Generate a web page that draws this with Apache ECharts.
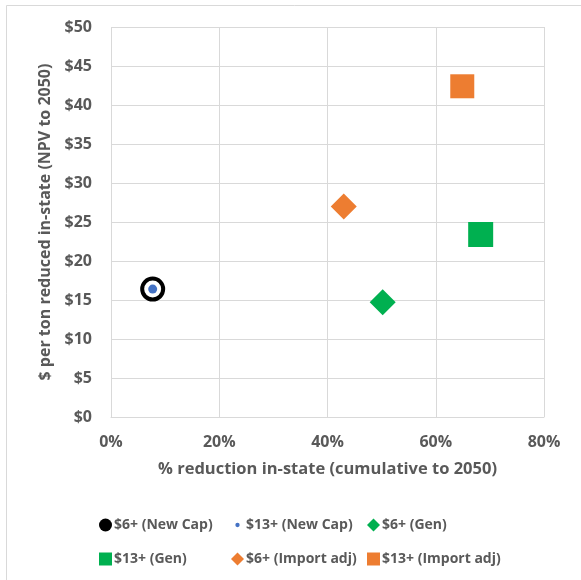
<!DOCTYPE html>
<html><head><meta charset="utf-8">
<script src="https://cdn.jsdelivr.net/npm/echarts@6/dist/echarts.min.js"></script>
<style>html,body{margin:0;padding:0;background:#fff}#c{width:581px;height:580px}</style>
</head><body><div id="c"></div>
<script>
const seriesNames = ['$6+ (New Cap)', '$13+ (New Cap)', '$6+ (Gen)', '$13+ (Gen)', '$6+ (Import adj)', '$13+ (Import adj)'];
const reductionPct = [7.7, 7.7, 50.2, 68.3, 43.0, 64.9];
const costPerTon = [16.4, 16.4, 14.7, 23.4, 27.0, 42.4];
const xTicks = [0, 20, 40, 60, 80];
const yTicks = [0, 5, 10, 15, 20, 25, 30, 35, 40, 45, 50];

const font = '"Open Sans", sans-serif';
const txt = '#595959';
const styles = [
  {symbol: 'circle', symbolSize: 21, itemStyle: {color: '#ffffff', borderColor: '#000000', borderWidth: 4, opacity: 1}, legendColor: '#000'},
  {symbol: 'circle', symbolSize: 9, itemStyle: {color: '#4472C4', opacity: 1}, legendColor: '#4472C4'},
  {symbol: 'diamond', symbolSize: 26, itemStyle: {color: '#00B050', opacity: 1}, legendColor: '#00B050'},
  {symbol: 'rect', symbolSize: 25, itemStyle: {color: '#00B050', borderRadius: 2, opacity: 1}, legendColor: '#00B050'},
  {symbol: 'diamond', symbolSize: 26, itemStyle: {color: '#ED7D31', opacity: 1}, legendColor: '#ED7D31'},
  {symbol: 'rect', symbolSize: 24, itemStyle: {color: '#ED7D31', borderRadius: 2, opacity: 1}, legendColor: '#ED7D31'}
];

const series = seriesNames.map((n, i) => ({
  name: n, type: 'scatter', symbol: styles[i].symbol, symbolSize: styles[i].symbolSize,
  itemStyle: styles[i].itemStyle, z: i === 1 ? 5 : 3,
  emphasis: {disabled: true},
  data: [[reductionPct[i], costPerTon[i]]]
}));

const smallDot = 'image://data:image/svg+xml;utf8,' + encodeURIComponent('<svg xmlns="http://www.w3.org/2000/svg" width="12" height="12"><circle cx="6" cy="6" r="2" fill="#4472C4"/></svg>');
const legendIcons = ['circle', smallDot, 'diamond', 'rect', 'diamond', 'rect'];
const legendLefts = [94, 226, 362];
const legends = [0, 1, 2].map(col => ({
  orient: 'vertical', left: legendLefts[col], top: 513, itemGap: 20,
  itemWidth: 13, itemHeight: 13,
  textStyle: {fontFamily: font, fontWeight: 'bold', fontSize: 14, color: txt, padding: [0, 0, 0, -3]},
  data: [col, col + 3].map(i => ({
    name: seriesNames[i], icon: legendIcons[i],
    itemStyle: {color: styles[i].legendColor, borderWidth: 0, opacity: 1}
  }))
}));

const chart = echarts.init(document.getElementById('c'), null, {renderer: 'canvas'});
chart.setOption({
  animation: false,
  backgroundColor: '#fff',
  graphic: [{type: 'rect', shape: {x: 6.5, y: 5.5, width: 700, height: 700}, style: {fill: 'none', stroke: '#d9d9d9', lineWidth: 1}, silent: true, z: -10}],
  grid: {left: 111, right: 37, top: 27, bottom: 163},
  xAxis: {
    type: 'value', min: xTicks[0], max: xTicks[xTicks.length - 1], interval: 20,
    name: '% reduction in-state (cumulative to 2050)', nameLocation: 'middle', nameGap: 44,
    nameTextStyle: {fontFamily: font, fontWeight: 'bold', fontSize: 16.5, color: txt},
    axisLine: {show: true, lineStyle: {color: '#d9d9d9'}}, axisTick: {show: false},
    axisLabel: {fontFamily: font, fontWeight: 'bold', fontSize: 16, color: txt, margin: 17, formatter: v => v + '%'},
    splitLine: {show: true, lineStyle: {color: '#d9d9d9', width: 1}}
  },
  yAxis: {
    type: 'value', min: yTicks[0], max: yTicks[yTicks.length - 1], interval: 5,
    name: '$ per ton reduced in-state (NPV to 2050)', nameLocation: 'middle', nameGap: 56,
    nameTextStyle: {fontFamily: font, fontWeight: 'bold', fontSize: 16, color: txt},
    axisLine: {show: false}, axisTick: {show: false},
    axisLabel: {fontFamily: font, fontWeight: 'bold', fontSize: 16, color: txt, margin: 19, formatter: v => '$' + v},
    splitLine: {show: true, lineStyle: {color: '#d9d9d9', width: 1}}
  },
  legend: legends,
  series: series
});
</script></body></html>
